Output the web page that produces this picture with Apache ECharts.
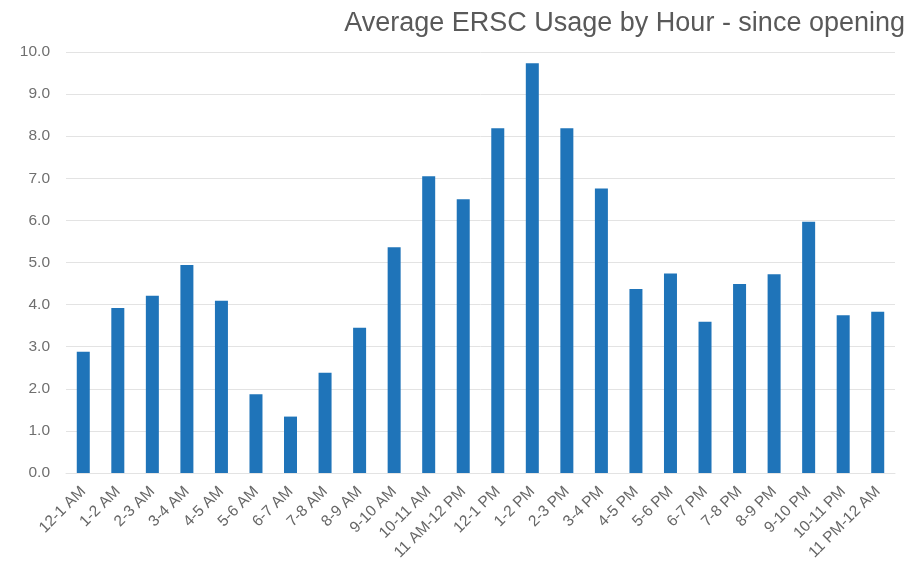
<!DOCTYPE html>
<html>
<head>
<meta charset="utf-8">
<script src="https://cdn.jsdelivr.net/npm/echarts@6/dist/echarts.min.js"></script>
<style>
  html, body { margin: 0; padding: 0; background: #fff; }
  #chart { width: 922px; height: 569px; }
</style>
</head>
<body>
<div id="chart"></div>
<script>
const hours = [
  '12-1 AM', '1-2 AM', '2-3 AM', '3-4 AM', '4-5 AM', '5-6 AM', '6-7 AM', '7-8 AM',
  '8-9 AM', '9-10 AM', '10-11 AM', '11 AM-12 PM', '12-1 PM', '1-2 PM', '2-3 PM', '3-4 PM',
  '4-5 PM', '5-6 PM', '6-7 PM', '7-8 PM', '8-9 PM', '9-10 PM', '10-11 PM', '11 PM-12 AM'
]
const usage = [
  2.88, 3.92, 4.21, 4.94, 4.09, 1.87, 1.34, 2.38,
  3.45, 5.36, 7.05, 6.50, 8.19, 9.73, 8.19, 6.76,
  4.37, 4.74, 3.59, 4.49, 4.72, 5.97, 3.75, 3.83
]

const chart = echarts.init(document.getElementById('chart'))
const option = {
  animation: false,
  title: {
    text: 'Average ERSC Usage by Hour - since opening',
    right: 12,
    top: 5,
    textStyle: {
      color: '#595959',
      fontWeight: 'normal',
      fontSize: 27,
      fontFamily: 'Liberation Sans'
    }
  },
  grid: {
    left: 66,
    right: 27,
    top: 52,
    bottom: 96
  },
  xAxis: {
    type: 'category',
    data: hours,
    axisLine: { lineStyle: { color: '#e3e3e3' } },
    axisTick: { show: false },
    axisLabel: {
      interval: 0,
      rotate: 45,
      color: '#666666',
      fontSize: 15.5,
      fontFamily: 'Liberation Sans',
      margin: 16
    }
  },
  yAxis: {
    type: 'value',
    min: 0,
    max: 10,
    interval: 1,
    axisLine: { show: false },
    axisTick: { show: false },
    splitLine: { lineStyle: { color: '#e3e3e3' } },
    axisLabel: {
      color: '#6f6f6f',
      fontSize: 15.5,
      fontFamily: 'Liberation Sans',
      margin: 16,
      formatter: v => v.toFixed(1)
    }
  },
  series: [
    {
      type: 'bar',
      data: usage,
      barWidth: 13,
      itemStyle: { color: '#1f74b9' }
    }
  ]
}
chart.setOption(option, true)
</script>
</body>
</html>
